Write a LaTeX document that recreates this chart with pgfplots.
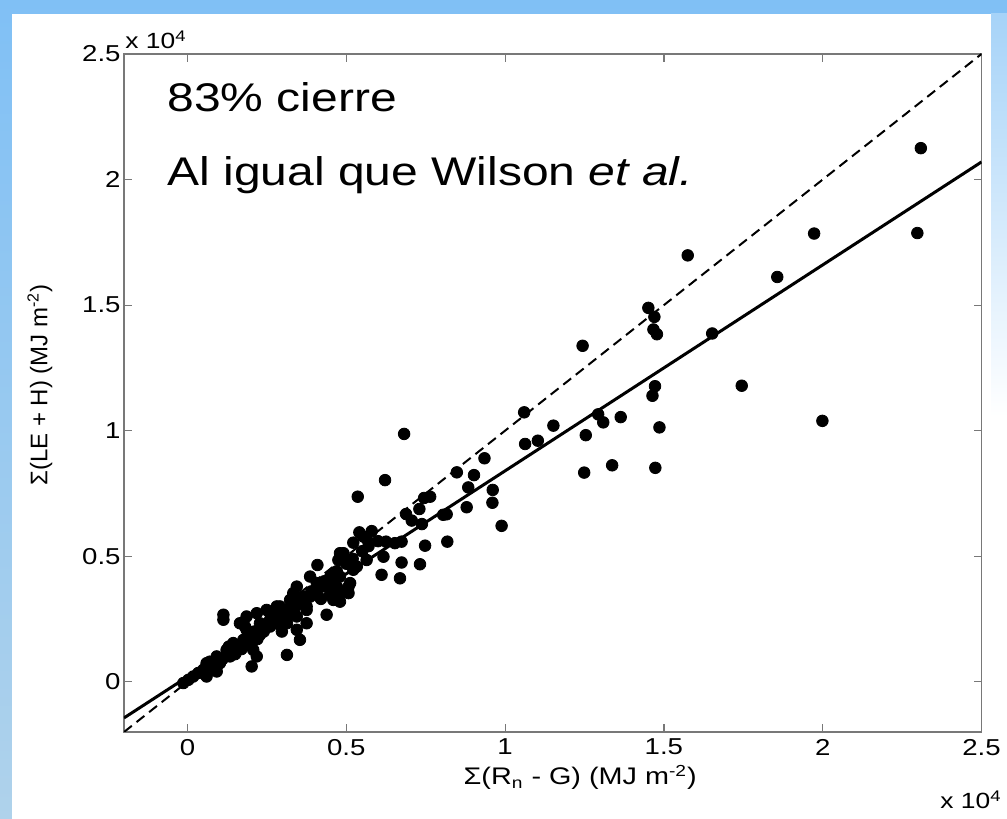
\documentclass[border=0pt]{standalone}
\usepackage{fontspec}
\setmainfont{Liberation Sans}[FakeStretch=1.2]
\newfontfamily\plainsans{Liberation Sans}
\usepackage{pgfplots}
\pgfplotsset{compat=1.18}
\usepackage{pgfplotstable}
\definecolor{skytop}{RGB}{128,192,245}
\definecolor{skybot}{RGB}{175,210,235}
\definecolor{axgray}{RGB}{120,120,120}

\pgfplotstableread{
x y
2.309 2.125
1.973 1.785
2.298 1.787
1.857 1.612
1.575 1.698
1.745 1.179
1.999 1.039
1.451 1.489
1.470 1.453
1.467 1.403
1.478 1.384
1.244 1.338
1.652 1.387
1.472 1.177
1.464 1.139
1.060 1.073
1.152 1.020
1.063 0.947
1.103 0.960
1.254 0.982
1.293 1.065
1.309 1.033
1.364 1.054
1.486 1.013
1.249 0.833
1.337 0.862
1.473 0.852
0.682 0.987
0.622 0.803
0.536 0.737
0.935 0.890
0.848 0.834
0.902 0.823
0.884 0.774
0.961 0.764
0.960 0.713
0.879 0.695
0.989 0.621
0.764 0.737
0.745 0.732
0.730 0.688
0.688 0.668
0.706 0.642
0.738 0.628
0.816 0.667
0.805 0.665
0.818 0.558
0.748 0.542
0.674 0.558
0.625 0.558
0.541 0.595
0.554 0.578
0.522 0.554
0.480 0.512
0.732 0.468
0.674 0.475
0.669 0.412
0.564 0.571
0.491 0.512
0.653 0.552
0.611 0.426
0.617 0.498
0.564 0.485
0.533 0.459
0.475 0.485
0.409 0.465
0.386 0.419
0.344 0.379
0.423 0.379
0.470 0.379
0.507 0.379
0.449 0.346
0.480 0.319
0.438 0.267
0.365 0.339
0.323 0.326
0.291 0.300
0.375 0.300
0.260 0.273
0.312 0.260
0.344 0.260
0.228 0.233
0.181 0.220
0.113 0.267
0.113 0.247
0.281 0.233
0.313 0.107
0.202 0.061
0.354 0.167
0.344 0.207
0.313 0.233
0.260 0.247
0.239 0.227
0.228 0.187
0.186 0.207
0.176 0.167
0.207 0.127
0.218 0.101
0.144 0.154
0.155 0.127
0.123 0.127
0.134 0.101
0.092 0.101
0.102 0.074
0.060 0.074
0.050 0.048
0.092 0.041
0.060 0.021
0.018 0.021
0.003 0.008
-0.013 -0.005
0.034 0.035
0.165 0.233
0.186 0.260
0.218 0.273
0.249 0.286
0.281 0.300
0.260 0.220
0.297 0.200
0.375 0.233
0.375 0.286
0.354 0.319
0.333 0.353
0.386 0.339
0.407 0.393
0.449 0.366
0.459 0.326
0.480 0.353
0.507 0.353
0.512 0.393
0.480 0.419
0.522 0.446
0.160 0.140
0.190 0.180
0.130 0.140
0.080 0.060
0.070 0.080
0.110 0.090
0.150 0.110
0.170 0.130
0.200 0.150
0.220 0.170
0.240 0.200
0.270 0.240
0.290 0.270
0.300 0.250
0.320 0.290
0.330 0.310
0.360 0.330
0.390 0.360
0.410 0.370
0.430 0.400
0.450 0.420
0.470 0.440
0.500 0.470
0.520 0.490
0.550 0.520
0.570 0.540
0.580 0.600
0.600 0.560
0.140 0.120
0.180 0.150
0.210 0.200
0.250 0.230
0.280 0.260
0.310 0.280
0.340 0.300
0.400 0.350
0.420 0.330
0.440 0.390
}\pts

\begin{document}
\begin{tikzpicture}[x=1pt,y=1pt]
\useasboundingbox (0,0) rectangle (503.5,409.5);
\shade[top color=skytop, bottom color=skybot] (0,0) rectangle (503.5,409.5);
\fill[white] (6,0) rectangle (503.5,402.5);
\shade[top color=skytop!70!white, bottom color=white, middle color=white] (495.5,0) rectangle (503.5,402.5);
\begin{axis}[
  at={(62pt,43.5pt)}, anchor=south west,
  scale only axis, width=428.75pt, height=339pt,
  xmin=-0.2, xmax=2.5, ymin=-0.2, ymax=2.5,
  xtick={0,0.5,1,1.5,2,2.5}, ytick={0,0.5,1,1.5,2,2.5},
  xticklabels={0,0.5,1,1.5,2,2.5}, yticklabels={0,0.5,1,1.5,2,2.5},
  tick align=inside, major tick length=4pt,
  axis line style={axgray, line width=0.6pt},
  tick style={axgray, line width=0.6pt},
  ticklabel style={font=\fontsize{11.5}{13}\selectfont, text=black},
  yticklabel style={inner xsep=1.5pt},
  /pgf/number format/assume math mode=true,
  xlabel={\fontsize{12}{14}\selectfont Σ(R\textsubscript{n} - G) (MJ m\textsuperscript{-2})},
  ylabel={\plainsans\fontsize{12}{14}\selectfont Σ(LE + H) (MJ m\textsuperscript{-2})},
  every axis x label/.style={at={(axis description cs:0.532,-0.078)}, anchor=base},
  every axis y label/.style={at={(axis description cs:-0.098,0.512)}, rotate=90, anchor=center},
  clip=true,
]
\addplot[black, line width=1pt, dash pattern=on 5pt off 3pt] coordinates {(-0.2,-0.2) (2.5,2.5)};
\addplot[black, line width=1.5pt] coordinates {(-0.2,-0.144) (2.5,2.07)};
\addplot[only marks, mark=*, mark size=2.9pt, black] table[x=x, y=y] {\pts};
\end{axis}
\node[anchor=base west, inner sep=0, font=\fontsize{11}{13}\selectfont] at (62.5,385) {x 10\textsuperscript{4}};
\node[anchor=base west, inner sep=0, font=\fontsize{11}{13}\selectfont] at (470,5) {x 10\textsuperscript{4}};
\node[anchor=base west, inner sep=0, font=\fontsize{20}{24}\selectfont] at (83.5,353.5) {83\% cierre};
\node[anchor=base west, inner sep=0, font=\fontsize{20}{24}\selectfont] at (83.5,316.5) {Al igual que Wilson \textit{et al.}};
\end{tikzpicture}
\end{document}
